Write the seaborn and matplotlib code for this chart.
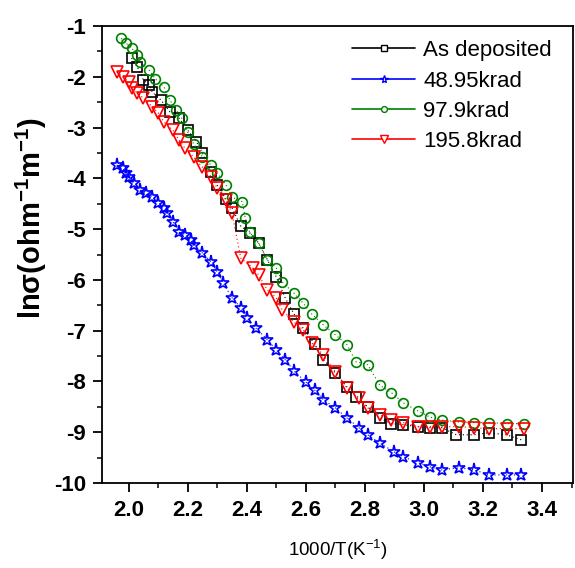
import matplotlib
matplotlib.use('Agg')
import matplotlib.pyplot as plt
from matplotlib.lines import Line2D
from matplotlib.ticker import MultipleLocator, FormatStrFormatter
import seaborn as sns

# As deposited (black squares)
x_dep = [2.01, 2.03, 2.05, 2.07, 2.08, 2.11, 2.14, 2.17, 2.20, 2.23,
         2.25, 2.28, 2.30, 2.33, 2.35, 2.38, 2.41, 2.44, 2.47, 2.50,
         2.53, 2.56, 2.59, 2.63, 2.66, 2.70, 2.74, 2.77, 2.81, 2.85,
         2.89, 2.93, 2.98, 3.02, 3.06, 3.11, 3.17, 3.22, 3.28, 3.33]
y_dep = [-1.63, -1.81, -2.06, -2.16, -2.30, -2.46, -2.69, -2.81, -3.05, -3.28,
         -3.50, -3.87, -4.13, -4.41, -4.58, -4.94, -5.07, -5.27, -5.60, -5.94,
         -6.35, -6.67, -6.94, -7.26, -7.57, -7.83, -8.11, -8.30, -8.50, -8.72,
         -8.83, -8.85, -8.89, -8.91, -8.91, -9.05, -9.05, -9.01, -9.05, -9.15]

# 48.95 krad (blue stars)
x_49 = [1.96, 1.98, 1.99, 2.00, 2.02, 2.04, 2.06, 2.08, 2.10, 2.12,
        2.13, 2.15, 2.17, 2.19, 2.21, 2.22, 2.25, 2.28, 2.30, 2.32,
        2.35, 2.38, 2.40, 2.43, 2.47, 2.50, 2.53, 2.56, 2.60, 2.63,
        2.66, 2.70, 2.74, 2.78, 2.81, 2.85, 2.90, 2.93, 2.98, 3.02,
        3.06, 3.12, 3.17, 3.22, 3.28, 3.33]
y_49 = [-3.74, -3.80, -3.89, -3.98, -4.09, -4.23, -4.29, -4.37, -4.48, -4.58,
        -4.68, -4.86, -5.06, -5.11, -5.21, -5.31, -5.47, -5.65, -5.84, -6.06,
        -6.35, -6.55, -6.75, -6.94, -7.18, -7.38, -7.57, -7.79, -8.01, -8.17,
        -8.36, -8.52, -8.72, -8.91, -9.05, -9.21, -9.39, -9.48, -9.60, -9.68,
        -9.74, -9.70, -9.74, -9.84, -9.84, -9.84]

# 97.9 krad (green circles)
x_98 = [1.975, 1.99, 2.01, 2.03, 2.04, 2.07, 2.09, 2.12, 2.14, 2.16,
        2.18, 2.20, 2.22, 2.25, 2.28, 2.30, 2.33, 2.35, 2.385, 2.395,
        2.41, 2.44, 2.47, 2.50, 2.52, 2.56, 2.59, 2.62, 2.66, 2.70,
        2.74, 2.77, 2.81, 2.85, 2.89, 2.93, 2.98, 3.02, 3.06, 3.12,
        3.17, 3.22, 3.28, 3.34]
y_98 = [-1.24, -1.33, -1.43, -1.57, -1.71, -1.87, -2.04, -2.20, -2.46, -2.65,
        -2.81, -3.09, -3.32, -3.58, -3.74, -3.89, -4.13, -4.37, -4.46, -4.78,
        -5.06, -5.27, -5.61, -5.76, -6.04, -6.26, -6.45, -6.67, -6.89, -7.08,
        -7.28, -7.61, -7.67, -8.07, -8.22, -8.42, -8.58, -8.70, -8.76, -8.80,
        -8.81, -8.81, -8.83, -8.83]

# 195.8 krad (red triangles)
x_196 = [1.96, 1.98, 2.00, 2.01, 2.03, 2.05, 2.08, 2.10, 2.12, 2.15,
         2.17, 2.19, 2.22, 2.25, 2.28, 2.30, 2.33, 2.35, 2.38, 2.42,
         2.44, 2.47, 2.50, 2.52, 2.56, 2.59, 2.62, 2.66, 2.70, 2.74,
         2.78, 2.81, 2.85, 2.89, 2.93, 2.98, 3.02, 3.06, 3.12, 3.17,
         3.22, 3.28, 3.34]
y_196 = [-1.91, -2.00, -2.10, -2.22, -2.32, -2.42, -2.59, -2.71, -2.89, -3.05,
         -3.24, -3.40, -3.58, -3.78, -3.97, -4.19, -4.43, -4.68, -5.57, -5.76,
         -5.90, -6.20, -6.35, -6.59, -6.83, -6.98, -7.24, -7.48, -7.81, -8.13,
         -8.32, -8.52, -8.66, -8.76, -8.81, -8.89, -8.89, -8.89, -8.89, -8.91,
         -8.93, -8.93, -8.93]

labels = ['As deposited', '48.95krad', '97.9krad', '195.8krad']
colors = ['black', 'blue', 'green', 'red']
markers = ['s', '*', 'o', 'v']
sizes = [7, 9.5, 7, 8.5]

sns.set_style('ticks')
plt.rcParams['font.family'] = ['Liberation Sans', 'DejaVu Sans']
plt.rcParams['axes.unicode_minus'] = False
plt.rcParams['mathtext.default'] = 'regular'
for key in ['text.color', 'axes.labelcolor', 'xtick.color', 'ytick.color', 'axes.edgecolor']:
    plt.rcParams[key] = 'black'

fig = plt.figure(figsize=(5.75, 5.68), dpi=100)
ax = fig.add_axes([0.1774, 0.1496, 0.8191, 0.8046])

series = [(x_dep, y_dep), (x_49, y_49), (x_98, y_98), (x_196, y_196)]
for (xs, ys), col, mk, ms in zip(series, colors, markers, sizes):
    sns.lineplot(x=xs, y=ys, ax=ax, color=col, marker=mk, markersize=ms,
                 markerfacecolor='none', markeredgecolor=col, markeredgewidth=1.2,
                 linestyle=(0, (1, 2.5)), linewidth=0.8, estimator=None, sort=False)

ax.set_xlim(1.91, 3.505)
ax.set_ylim(-10, -1)
ax.xaxis.set_major_locator(MultipleLocator(0.2))
ax.xaxis.set_minor_locator(MultipleLocator(0.1))
ax.yaxis.set_major_locator(MultipleLocator(1))
ax.yaxis.set_minor_locator(MultipleLocator(0.5))
ax.xaxis.set_major_formatter(FormatStrFormatter('%.1f'))
ax.tick_params(which='major', length=6.5, width=1.3, direction='out', pad=5)
ax.tick_params(axis='x', which='major', pad=6)
ax.tick_params(which='minor', length=3.5, width=1.1, direction='out')
for lab in ax.get_xticklabels() + ax.get_yticklabels():
    lab.set_fontsize(16)
    lab.set_fontweight('bold')
for sp in ax.spines.values():
    sp.set_linewidth(1.3)
    sp.set_visible(True)

ax.set_xlabel('1000/T(K$^{-1}$)', fontsize=13.5, labelpad=12)
ax.set_ylabel('ln\u03c3(ohm$^{-1}$m$^{-1}$)', fontsize=21, fontweight='bold')
ax.yaxis.set_label_coords(-0.112, 0.58)

handles = [Line2D([0], [0], color=col, marker=mk, markersize=ms * 0.6,
                  markerfacecolor='white', markeredgecolor=col, lw=1.2)
           for col, mk, ms in zip(colors, markers, sizes)]
ax.legend(handles, labels, loc='upper left', bbox_to_anchor=(0.531, 0.969),
          frameon=False, fontsize=16, handlelength=2.85, handletextpad=0.36,
          labelspacing=0.42, borderpad=0, borderaxespad=0)

plt.savefig('out.png', dpi=100)
